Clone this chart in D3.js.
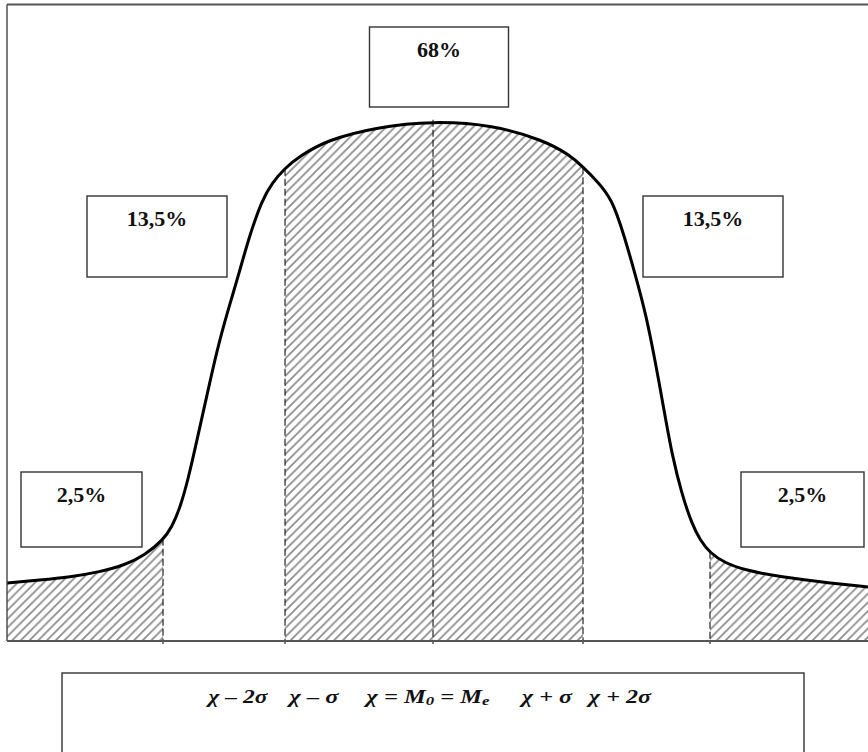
<!DOCTYPE html>
<html><head><meta charset="utf-8">
<script src="https://cdn.jsdelivr.net/npm/d3@7"></script>
<style>html,body{margin:0;padding:0;background:#fff;}svg{display:block;}</style>
</head><body>
<svg id="chart" width="868" height="752"></svg>
<script>
// ---- data (abstract units: x 0..100 across the plot, y 0..100 = peak density) ----
const curveX = [0, 3.83, 7.32, 10.80, 13.70, 16.03, 18.12, 19.16, 20.09, 21.02, 22.07, 23.23, 24.39, 25.67, 26.83, 28.11, 29.62, 30.78, 32.29, 34.03, 37.17, 42.97, 49.48, 56.45, 62.25, 65.39, 66.90, 68.53, 70.27, 71.66, 73.05, 74.22, 75.26, 76.31, 77.24, 78.40, 79.56, 80.49, 81.65, 83.39, 85.71, 89.78, 95.59, 100];
const curveY = [11.15, 11.73, 12.31, 13.27, 14.62, 16.54, 19.42, 21.92, 25.58, 30.96, 38.65, 47.31, 55.96, 63.65, 70.00, 77.69, 84.81, 88.08, 90.96, 93.27, 96.35, 98.85, 100, 99.23, 96.35, 93.46, 91.15, 88.46, 85.00, 78.08, 70.00, 62.69, 54.04, 44.42, 35.77, 28.08, 22.50, 19.42, 16.92, 15.00, 13.65, 12.31, 11.15, 10.38];
const sigmaMarks = [18.12, 32.29, 49.48, 66.90, 81.65];           // χ-2σ, χ-σ, χ, χ+σ, χ+2σ
const shareLabels = ["2,5%", "13,5%", "68%", "13,5%", "2,5%"];
const axisLabels = [["χ – 2σ"], ["χ – σ"], ["χ = M", "0", " = M", "е"], ["χ + σ"], ["χ + 2σ"]];

// ---- layout ----
const svg = d3.select("#chart");
const plot = {left: 7, right: 868, top: 4.5, bottom: 641, peak: 121};
const x = d3.scaleLinear().domain([0, 100]).range([plot.left, plot.right]);
const y = d3.scaleLinear().domain([0, 100]).range([plot.bottom, plot.peak]);
const pts = curveX.map((v, i) => [v, curveY[i]]);

const defs = svg.append("defs");
const pat = defs.append("pattern").attr("id", "hatch").attr("patternUnits", "userSpaceOnUse")
  .attr("width", 8.7).attr("height", 8.7);
pat.append("path").attr("d", "M-1,1 l2,-2 M0,8.7 l8.7,-8.7 M7.7,9.7 l2,-2")
  .attr("stroke", "#8a8a8a").attr("stroke-width", 1.7);

const intervals = [[0, sigmaMarks[0]], [sigmaMarks[1], sigmaMarks[3]], [sigmaMarks[4], 100]];
const clip = defs.append("clipPath").attr("id", "hclip");
clip.selectAll("rect").data(intervals).join("rect")
  .attr("x", d => x(d[0])).attr("width", d => x(d[1]) - x(d[0]))
  .attr("y", 0).attr("height", plot.bottom);

const curveType = d3.curveBasis;
const area = d3.area().x(d => x(d[0])).y0(y(0)).y1(d => y(d[1])).curve(curveType);
const line = d3.line().x(d => x(d[0])).y(d => y(d[1])).curve(curveType);

svg.append("path").datum(pts).attr("d", area).attr("fill", "url(#hatch)").attr("clip-path", "url(#hclip)");

const curvePath = svg.append("path").datum(pts).attr("d", line)
  .attr("fill", "none").attr("stroke", "#000").attr("stroke-width", 3);

// find curve height at a given x pixel by sampling the drawn path
const node = curvePath.node();
const total = node.getTotalLength();
const samples = d3.range(0, total, 0.5).map(l => node.getPointAtLength(l));
function curveYAt(px) {
  let best = samples[0];
  for (const p of samples) if (Math.abs(p.x - px) < Math.abs(best.x - px)) best = p;
  return best.y;
}

svg.selectAll("line.sig").data(sigmaMarks).join("line").attr("class", "sig")
  .attr("x1", d => x(d)).attr("x2", d => x(d))
  .attr("y1", (d, i) => i === 2 ? curveYAt(x(d)) - 3 : curveYAt(x(d)))
  .attr("y2", plot.bottom + 3)
  .attr("stroke", "#111").attr("stroke-width", 1.1).attr("stroke-dasharray", "7,3");

// frame
svg.append("line").attr("x1", plot.left).attr("x2", plot.right).attr("y1", plot.top).attr("y2", plot.top)
  .attr("stroke", "#555").attr("stroke-width", 2);
svg.append("line").attr("x1", plot.left).attr("x2", plot.left).attr("y1", plot.top).attr("y2", plot.bottom)
  .attr("stroke", "#444").attr("stroke-width", 1.4);
svg.append("line").attr("x1", plot.left).attr("x2", plot.right).attr("y1", plot.bottom).attr("y2", plot.bottom)
  .attr("stroke", "#555").attr("stroke-width", 2.2);

// share boxes
const boxes = [
  {x0: 21, x1: 142, y0: 472, y1: 547},
  {x0: 87, x1: 227, y0: 196, y1: 277},
  {x0: 369.5, x1: 508.5, y0: 27, y1: 107},
  {x0: 643, x1: 783, y0: 196, y1: 277},
  {x0: 741, x1: 864, y0: 472, y1: 547}
];
const g = svg.selectAll("g.box").data(shareLabels).join("g").attr("class", "box");
g.append("rect").attr("x", (d, i) => boxes[i].x0).attr("y", (d, i) => boxes[i].y0)
  .attr("width", (d, i) => boxes[i].x1 - boxes[i].x0).attr("height", (d, i) => boxes[i].y1 - boxes[i].y0)
  .attr("fill", "#fff").attr("stroke", "#333").attr("stroke-width", 1.4);
g.append("text").attr("x", (d, i) => (boxes[i].x0 + boxes[i].x1) / 2).attr("y", (d, i) => boxes[i].y0 + 30)
  .attr("text-anchor", "middle").attr("font-family", "'Liberation Serif', 'Times New Roman', serif")
  .attr("font-weight", "bold").attr("font-size", 22).attr("fill", "#111").text(d => d);

// bottom legend box
svg.append("rect").attr("x", 62).attr("y", 673).attr("width", 742).attr("height", 100)
  .attr("fill", "#fff").attr("stroke", "#333").attr("stroke-width", 1.4);
const labelCenters = [238, 314, 428, 547, 620];
const labelWidths = [59, 49, 123, 50, 62];
const lt = svg.selectAll("text.ax").data(axisLabels).join("text").attr("class", "ax")
  .attr("x", (d, i) => labelCenters[i]).attr("y", 703)
  .attr("text-anchor", "middle").attr("font-family", "'Liberation Serif', 'Times New Roman', serif")
  .attr("font-style", "italic").attr("font-weight", "bold").attr("font-size", 19).attr("fill", "#111")
  .attr("textLength", (d, i) => labelWidths[i]).attr("lengthAdjust", "spacingAndGlyphs");
lt.selectAll("tspan").data(d => d).join("tspan")
  .attr("font-size", (d, i) => i % 2 === 1 ? 13 : null)
  .attr("dy", (d, i) => i % 2 === 1 ? 2 : (i > 0 ? -2 : null))
  .text(d => d);
</script>
</body></html>
